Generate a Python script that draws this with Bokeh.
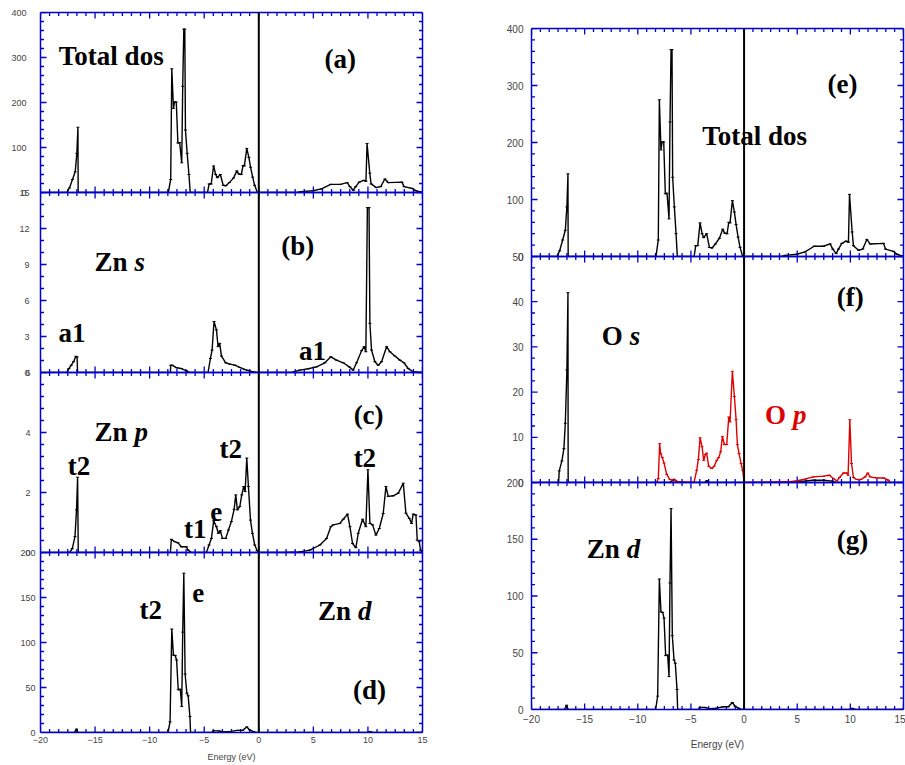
import math
from bokeh.plotting import figure
from bokeh.models import Range1d, LinearAxis, AdaptiveTicker, BasicTicker, Span, Label
from bokeh.layouts import column, row
from bokeh.embed import file_html
from bokeh.resources import INLINE

# ---------------- data (energy in eV, DOS values) ----------------
tot_x = [-19.4, -17.6,
         -17.35, -17.07, -16.82, -16.67, -16.57, -16.55,
         -8.4, -8.29, -8.07, -7.97, -7.82, -7.72, -7.56, -7.41, -7.25, -7.06, -6.97, -6.87, -6.78, -6.72, -6.56, -6.40, -6.28,
         -4.7, -4.55, -4.36, -4.14, -3.95, -3.80, -3.52, -3.26, -3.01, -2.70, -2.32, -2.01, -1.82, -1.60, -1.44, -1.32, -1.10, -0.91, -0.75, -0.56, -0.38, -0.13,
         3.5, 3.86, 4.96, 5.74, 6.59, 7.47, 8.10, 8.35, 8.66, 8.88, 9.20, 9.60, 9.82, 9.92, 10.17, 10.29, 10.77, 11.17, 11.55, 11.86, 13.12, 13.31, 14.06, 14.38, 14.85, 15.0]
tot_y = [0, 0,
         10, 29, 46, 87, 145, 0,
         0, 0, 29, 275, 187, 201, 201, 110, 111, 66, 236, 363, 363, 139, 87, 40, 0,
         0, 19, 19, 59, 40, 33, 40, 16, 15, 22, 32, 48, 41, 40, 60, 59, 98, 78, 56, 34, 16, 0,
         0, 2, 4, 8, 18, 18, 22, 13, 5, 13, 23, 27, 25, 109, 43, 19, 11, 13, 30, 22, 23, 13, 9, 4, 1, 0]

zns_x = [-19.4, -17.6,
         -17.4, -17.19, -16.97, -16.76, -16.65, -16.6,
         -8.1, -8.07, -7.92, -7.55, -7.09, -6.63, -6.3,
         -4.65, -4.43, -4.28, -4.1, -3.88, -3.73, -3.58, -3.42, -3.03, -2.66, -2.2, -1.74, -1.28, -0.67, -0.06,
         3.0, 3.76, 4.53, 5.29, 6.05, 6.6, 7.12, 7.74, 8.29, 8.65, 8.96, 9.42, 9.66, 9.81, 9.95, 10.1, 10.18, 10.33, 10.64, 10.94,
         11.25, 11.71, 12.01, 12.47, 12.93, 13.3, 13.69, 14.15, 14.92, 15.0]
zns_y = [0, 0,
         0.33, 0.6, 0.9, 1.35, 1.3, 0,
         0, 0.6, 0.6, 0.4, 0.33, 0.14, 0,
         0, 1.17, 1.87, 4.25, 3.55, 2.15, 2.43, 1.37, 0.81, 0.7, 0.61, 0.42, 0.25, 0.08, 0,
         0, 0.2, 0.31, 0.47, 0.81, 1.31, 1.03, 0.81, 0.47, 0.2, 0.81, 1.82, 2.15, 1.73, 13.74, 13.74, 4.1, 1.87, 0.9, 0.61,
         0.9, 2.15, 1.73, 1.37, 1.03, 0.81, 0.33, 0.06, 0, 0]

znp_x = [-19.4, -17.33,
         -17.09, -16.84, -16.7, -16.6, -16.54,
         -8.1, -8.01, -7.7, -7.4, -7.09, -6.63, -6.48, -6.18,
         -4.8, -4.56, -4.34, -4.13, -3.88, -3.7, -3.52, -3.33, -3.03, -2.78, -2.51, -2.26, -2.11, -1.96, -1.74, -1.56, -1.38, -1.25, -1.1, -0.95, -0.76, -0.58, -0.37, -0.15, 0.0,
         2.23, 3.76, 4.68, 5.6, 6.21, 6.6, 6.82, 7.43, 7.74, 8.13, 8.35, 8.59, 8.9, 9.11, 9.51, 9.81, 10.0, 10.18, 10.43, 10.73,
         11.04, 11.4, 11.65, 11.86, 12.32, 12.78, 13.24, 13.48, 13.79, 14.0, 14.15, 14.4, 14.52, 14.7, 14.82, 15.0]
znp_y = [0, 0,
         0.13, 0.53, 1.42, 2.51, 0,
         0, 0.44, 0.36, 0.32, 0.19, 0.19, 0.08, 0,
         0, 0.25, 0.47, 1.06, 0.86, 0.64, 0.73, 0.47, 0.47, 0.75, 1.03, 1.44, 1.92, 1.42, 1.53, 1.92, 2.2, 2.03, 3.15, 2.2, 1.08, 0.64, 0.25, 0.06, 0,
         0, 0.02, 0.08, 0.25, 0.47, 0.86, 0.92, 0.97, 1.11, 1.28, 0.86, 0.3, 0.16, 0.64, 1.11, 0.86, 2.76, 0.97, 0.92, 0.58,
         0.8, 1.3, 2.2, 1.87, 1.89, 1.98, 2.31, 1.31, 1.14, 0.97, 1.28, 1.25, 0.41, 0.36, 0.08, 0]

znd_x = [-19.4, -16.9, -16.7, -16.55,
         -8.32, -8.13, -7.97, -7.82, -7.66, -7.53, -7.38, -7.19, -7.06, -6.97, -6.87, -6.75, -6.59, -6.47, -6.31, -6.25,
         -4.3, -4.14, -3.67, -3.2, -2.57, -1.95, -1.48, -1.1, -0.85, -0.53, -0.22,
         9.9, 10.2, 10.5, 15.0]
znd_y = [0, 0, 3.8, 0,
         0, 11.8, 115, 86, 85.5, 80.5, 47.5, 48, 29, 111.5, 177, 65, 43.7, 40.7, 17.7, 0,
         0, 1.8, 1.8, 0.6, 1.2, 2.4, 2.4, 6.2, 3.0, 1.2, 0,
         0, 1.0, 0, 0]

os_x = [-19.4, -17.45, -17.39, -17.14, -16.95, -16.82, -16.67, -16.57, -16.55,
        -7.0, -6.6, -6.3, -3.7, -3.5, -3.3, 4.5, 6.5, 7.5, 8.3, 8.6, 15.0]
os_y = [0, 0, 2.57, 4.77, 7.5, 13.1, 24.9, 42, 0,
        0, 0.7, 0, 0, 0.4, 0, 0, 0.5, 0.5, 0.3, 0, 0]

op_x = [-8.22, -8.07, -7.94, -7.85, -7.69, -7.53, -7.28, -6.97, -6.5, -6.18,
        -4.71, -4.46, -4.3, -4.14, -3.95, -3.8, -3.64, -3.52, -3.33, -3.04,
        -2.82, -2.57, -2.39, -2.2, -2.04, -1.85, -1.63, -1.44, -1.32, -1.1,
        -0.91, -0.75, -0.63, -0.47, -0.28, -0.13, 0.0,
        4.17, 5.27, 6.53, 7.47, 8.03, 8.41, 8.73, 8.98, 9.35, 9.67,
        9.79, 9.95, 10.11, 10.29, 10.61, 10.99, 11.39, 11.64, 11.86, 12.49, 13.12, 13.59, 13.75]
op_y = [0, 0.88, 8.6, 6.4, 5.5, 4.3, 1.8, 0.66, 0.5, 0.15,
        0, 2.7, 5.1, 9.9, 7.9, 4.9, 6.2, 6.5, 3.6, 3.1,
        3.6, 4.9, 5.5, 6.8, 10.2, 8.4, 8.4, 14.5, 13.4, 24.6,
        19, 13.9, 8.4, 6.4, 4.2, 2.7, 0,
        0.15, 0.5, 1.25, 1.4, 1.6, 0.88, 0.37, 1.1, 2.1, 2.1,
        1.6, 13.9, 4.2, 1.1, 0.66, 0.66, 1.25, 2.1, 1.25, 1.0, 1.0, 0.5, 0]

# axis tick values
x_major = [-20, -15, -10, -5, 0, 5, 10, 15]
x_minor_div = 6
x_title = "Energy (eV)"

BLUE = "#0000cc"
RED = "#dd0000"
SERIF = "Liberation Serif"
SANS = "Liberation Sans"
XMIN, XMAX = -20, 15


def minors(majors, ndiv):
    out = []
    for a, b in zip(majors[:-1], majors[1:]):
        step = (b - a) / ndiv
        out += [a + k * step for k in range(1, ndiv)]
    return out


def style_axis(ax, labels=False, font_size="9px", standoff=3):
    ax.axis_line_color = BLUE
    ax.axis_line_width = 1.5
    ax.major_tick_in = 0
    ax.major_tick_out = 0
    ax.minor_tick_in = 0
    ax.minor_tick_out = 0
    ax.major_tick_line_color = None
    ax.minor_tick_line_color = None
    if labels:
        ax.major_label_text_font = SANS
        ax.major_label_text_font_size = font_size
        ax.major_label_text_color = "#444444"
        ax.major_label_standoff = standoff
    else:
        ax.major_label_text_color = None
        ax.major_label_text_font_size = "1px"
        ax.major_label_standoff = 0


def draw_ticks(p, ymax, ystep, ydiv):
    y_major = [ystep * k for k in range(int(round(ymax / ystep)) + 1)]
    y_minor = minors(y_major, ydiv)
    x_minor = minors(x_major, x_minor_div)
    for vals, ln in ((y_major, 6), (y_minor, 3.5)):
        p.ray(x=[XMIN] * len(vals), y=vals, length=ln, angle=0, length_units="screen",
              line_color=BLUE, line_width=1.3)
        p.ray(x=[XMAX] * len(vals), y=vals, length=ln, angle=math.pi, length_units="screen",
              line_color=BLUE, line_width=1.3)
    for vals, ln in ((x_major, 6), (x_minor, 3.5)):
        p.ray(x=vals, y=[0] * len(vals), length=ln, angle=math.pi / 2, length_units="screen",
              line_color=BLUE, line_width=1.3)
        p.ray(x=vals, y=[ymax] * len(vals), length=ln, angle=-math.pi / 2, length_units="screen",
              line_color=BLUE, line_width=1.3)


def panel(fw, fh, ymax, ystep, ydiv, top, bottom, left, right, margin,
          ystandoff, font_size, xlabels=False, xstand=4, xtitle_stand=6):
    p = figure(frame_width=fw, frame_height=fh,
               x_range=Range1d(XMIN, XMAX), y_range=Range1d(0, ymax),
               x_axis_location=None, y_axis_location=None,
               toolbar_location=None, output_backend="svg",
               min_border_top=top, min_border_bottom=bottom,
               min_border_left=left, min_border_right=right,
               background_fill_color=None, border_fill_color=None,
               outline_line_color=None)
    if margin is not None:
        p.margin = margin
    for g in p.grid:
        g.visible = False

    yt = AdaptiveTicker(mantissas=[1, 2, 3, 5], desired_num_ticks=int(round(ymax / ystep)), num_minor_ticks=ydiv)
    ly = LinearAxis(ticker=yt)
    style_axis(ly, labels=True, font_size=font_size, standoff=ystandoff)
    p.add_layout(ly, "left")
    ry = LinearAxis(ticker=yt)
    style_axis(ry)
    p.add_layout(ry, "right")
    xt = BasicTicker(desired_num_ticks=7, num_minor_ticks=x_minor_div)
    tx = LinearAxis(ticker=xt)
    style_axis(tx)
    p.add_layout(tx, "above")
    bx = LinearAxis(ticker=xt)
    if xlabels:
        style_axis(bx, labels=True, font_size=font_size, standoff=xstand)
        bx.axis_label = x_title
        bx.axis_label_text_font = SANS
        bx.axis_label_text_font_style = "normal"
        bx.axis_label_text_font_size = font_size
        bx.axis_label_text_color = "#444444"
        bx.axis_label_standoff = xtitle_stand
    else:
        style_axis(bx)
    p.add_layout(bx, "below")
    draw_ticks(p, ymax, ystep, ydiv)
    return p


def curve(p, xs, ys, color="black"):
    p.line(xs, ys, line_color=color, line_width=1.4)
    p.scatter(xs, ys, marker="dash", size=3, line_color=color, line_width=1)


def fermi(p):
    p.add_layout(Span(location=0, dimension="height", line_color="black", line_width=2))


def lab(p, x, y, text, color="black", style="bold", xoff=0):
    p.add_layout(Label(x=x, y=y, text=text, text_font=SERIF, text_font_style=style,
                       text_font_size="27px", text_color=color, x_offset=xoff,
                       text_baseline="alphabetic", text_align="left"))


# ---------------- left column ----------------
LW, LL, LR = 382, 40, 69
pa = panel(LW, 180, 400, 100, 5, 12, 8, LL, LR, None, 14, "9px")
curve(pa, tot_x, tot_y); fermi(pa)
lab(pa, -18.32, 304, "Total dos"); lab(pa, 6.03, 296, "(a)")

pb = panel(LW, 180, 15, 3, 3, 8, 8, LL, LR, (-16, 0, 0, 0), 11, "9px")
curve(pb, zns_x, zns_y); fermi(pb)
lab(pb, -15.05, 9.19, "Zn "); lab(pb, -15.05, 9.19, "s", style="bold italic", xoff=40)
lab(pb, 2.06, 10.58, "(b)")
lab(pb, -18.35, 3.28, "a1"); lab(pb, 3.68, 1.78, "a1")

pc = panel(LW, 180, 6, 2, 5, 8, 8, LL, LR, (-16, 0, 0, 0), 10, "9px")
curve(pc, znp_x, znp_y); fermi(pc)
lab(pc, -15.05, 4.01, "Zn "); lab(pc, -15.05, 4.01, "p", style="bold italic", xoff=40)
lab(pc, 8.69, 4.57, "(c)")
lab(pc, -17.5, 2.87, "t2"); lab(pc, -3.59, 3.46, "t2"); lab(pc, -6.86, 0.77, "t1")
lab(pc, -4.45, 1.34, "e"); lab(pc, 8.69, 3.16, "t2")

pd = panel(LW, 180, 200, 50, 5, 8, 33, LL, LR, (-16, 0, 0, 0), 5, "9px",
           xlabels=True, xstand=4, xtitle_stand=6)
curve(pd, znd_x, znd_y); fermi(pd)
lab(pd, -10.93, 135.6, "t2"); lab(pd, -6.1, 154.8, "e")
lab(pd, 5.42, 134.8, "Zn "); lab(pd, 5.42, 134.8, "d", style="bold italic", xoff=40)
lab(pd, 8.63, 46.7, "(d)")

# ---------------- right column ----------------
RW, RL, RR = 372, 40, 2
pe = panel(RW, 228, 400, 100, 5, 28, 8, RL, RR, None, 8, "10px")
curve(pe, tot_x, tot_y); fermi(pe)
lab(pe, 7.86, 303, "(e)"); lab(pe, -3.93, 212, "Total dos")

pf = panel(RW, 226, 50, 10, 4, 8, 8, RL, RR, (-16, 0, 0, 0), 8, "10px")
curve(pf, os_x, os_y)
curve(pf, op_x, op_y, color=RED); fermi(pf)
lab(pf, 8.71, 41, "(f)")
lab(pf, -13.4, 32.4, "O "); lab(pf, -13.4, 32.4, "s", style="bold italic", xoff=28)
lab(pf, 1.97, 15.0, "O ", color=RED); lab(pf, 1.97, 15.0, "p", color=RED, style="bold italic", xoff=28)

pg = panel(RW, 227, 200, 50, 5, 8, 56, RL, RR, (-16, 0, 0, 0), 8, "10px",
           xlabels=True, xstand=5, xtitle_stand=13)
curve(pg, znd_x, znd_y); fermi(pg)
lab(pg, -14.81, 141.6, "Zn "); lab(pg, -14.81, 141.6, "d", style="bold italic", xoff=40)
lab(pg, 8.71, 149, "(g)")

layout = row(column(pa, pb, pc, pd), column(pe, pf, pg))
open("out.html", "w").write(file_html(layout, INLINE))
